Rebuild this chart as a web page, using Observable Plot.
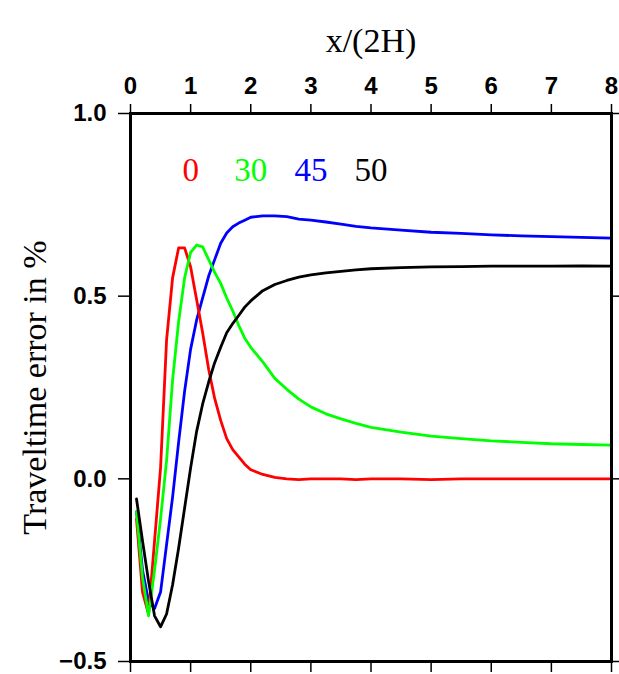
<!DOCTYPE html>
<html>
<head>
<meta charset="utf-8">
<script src="https://cdn.jsdelivr.net/npm/d3@7"></script>
<script src="https://cdn.jsdelivr.net/npm/@observablehq/plot@0.6"></script>
<style>
  html, body { margin: 0; padding: 0; background: #fff; }
  #chart svg { overflow: visible; }
</style>
</head>
<body>
<div id="chart"></div>
<script>
// Distance along the profile, in units of 2H
const xs = [0.1, 0.2, 0.3, 0.4, 0.5, 0.6, 0.7, 0.8, 0.9, 1.0,
            1.1, 1.2, 1.3, 1.4, 1.5, 1.6, 1.7, 1.8, 1.9, 2.0,
            2.2, 2.4, 2.6, 2.8, 3.0, 3.25, 3.5, 3.75, 4.0, 4.5,
            5.0, 5.5, 6.0, 6.5, 7.0, 7.5, 8.0];

// Traveltime error (%) for each dip angle
const err0 = [-0.11, -0.31, -0.37, -0.17, 0.03, 0.38, 0.55, 0.632, 0.632, 0.58,
              0.49, 0.40, 0.30, 0.22, 0.16, 0.11, 0.08, 0.06, 0.04, 0.025,
              0.012, 0.004, 0.0, -0.002, 0.0, 0.0, 0.0, -0.002, 0.0, 0.0,
              -0.002, 0.0, 0.0, 0.0, 0.0, 0.0, 0.0];
const err30 = [-0.09, -0.27, -0.375, -0.25, -0.11, 0.05, 0.27, 0.43, 0.55, 0.62,
               0.64, 0.635, 0.60, 0.565, 0.535, 0.495, 0.46, 0.42, 0.385, 0.36,
               0.32, 0.275, 0.245, 0.218, 0.197, 0.178, 0.164, 0.152, 0.141, 0.128,
               0.117, 0.11, 0.104, 0.100, 0.096, 0.094, 0.092];
const err45 = [-0.09, -0.25, -0.335, -0.355, -0.31, -0.18, -0.05, 0.10, 0.24, 0.355,
               0.435, 0.495, 0.555, 0.60, 0.645, 0.673, 0.69, 0.70, 0.708, 0.716,
               0.72, 0.72, 0.718, 0.711, 0.708, 0.703, 0.697, 0.691, 0.687, 0.681,
               0.675, 0.672, 0.668, 0.665, 0.663, 0.661, 0.659];
const err50 = [-0.055, -0.17, -0.28, -0.375, -0.405, -0.37, -0.29, -0.19, -0.08, 0.03,
               0.13, 0.205, 0.265, 0.318, 0.36, 0.40, 0.425, 0.447, 0.47, 0.487,
               0.515, 0.532, 0.543, 0.552, 0.558, 0.564, 0.568, 0.572, 0.575, 0.578,
               0.58, 0.581, 0.582, 0.582, 0.582, 0.583, 0.582];

const angles = ["0", "30", "45", "50"];
const colors = ["#ff0000", "#00ff00", "#0000ff", "#000000"];
const series = [err0, err30, err45, err50];
// 45° is drawn first so the shallower curves sit on top of it near the start
const drawOrder = [2, 0, 1, 3];

const xTicks = [0, 1, 2, 3, 4, 5, 6, 7, 8];
const yTicks = [-0.5, 0, 0.5, 1.0];

const rows = drawOrder.flatMap(k => xs.map((x, i) => ({x, y: series[k][i], angle: angles[k]})));

const sans = "Liberation Sans, Arial, Helvetica, sans-serif";
const serif = "Liberation Serif, Times New Roman, serif";
const fmt = d3.format(".1f");

const chart = Plot.plot({
  width: 619,
  height: 674,
  marginLeft: 130,
  marginRight: 8,
  marginTop: 113,
  marginBottom: 13,
  style: {background: "#fff", color: "#000"},
  x: {domain: [0, 8]},
  y: {domain: [-0.5, 1.0]},
  color: {domain: angles, range: colors},
  marks: [
    Plot.line(rows, {x: "x", y: "y", z: "angle", stroke: "angle", strokeWidth: 2.8, curve: "linear"}),
    Plot.axisX(xTicks, {anchor: "top", tickSize: 10, tickPadding: 10, tickFormat: d => String(d),
      fontFamily: sans, fontWeight: "bold", fontSize: 24, strokeWidth: 1.5, label: null}),
    Plot.axisX(xTicks, {anchor: "bottom", tickSize: 11, tickFormat: () => "", strokeWidth: 1.5, label: null}),
    Plot.axisY(yTicks, {anchor: "left", tickSize: 12, tickPadding: 12, tickFormat: fmt,
      fontFamily: sans, fontWeight: "bold", fontSize: 24, strokeWidth: 1.5, label: null}),
    Plot.axisY(yTicks, {anchor: "right", tickSize: 10, tickFormat: () => "", strokeWidth: 1.5, label: null}),
    Plot.frame({stroke: "#000", strokeWidth: 3}),
    Plot.text(["x/(2H)"], {frameAnchor: "top", dy: -86, fontFamily: serif, fontSize: 34, fill: "#000"}),
    Plot.text(["Traveltime error in %"], {frameAnchor: "left", textAnchor: "middle", dx: -95, rotate: -90,
      fontFamily: serif, fontSize: 34, fill: "#000"}),
    Plot.text(angles, {x: (d, i) => i + 1, y: () => 0.843, text: d => d, fill: d => d,
      fontFamily: serif, fontSize: 33})
  ]
});

document.getElementById("chart").appendChild(chart);
</script>
</body>
</html>
